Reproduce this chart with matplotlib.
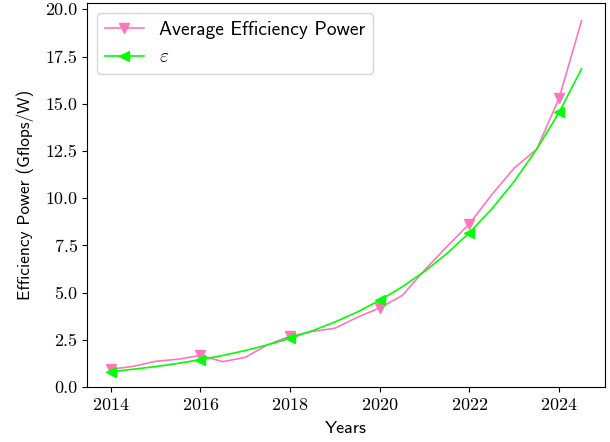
import matplotlib
matplotlib.use("Agg")
import matplotlib.pyplot as plt

# years sampled every half year
years = [2014, 2014.5, 2015, 2015.5, 2016, 2016.5, 2017, 2017.5, 2018, 2018.5, 2019,
         2019.5, 2020, 2020.5, 2021, 2021.5, 2022, 2022.5, 2023, 2023.5, 2024, 2024.5]
avg_power = [0.95, 1.1, 1.37, 1.48, 1.68, 1.35, 1.58, 2.25, 2.7, 2.95, 3.12,
             3.7, 4.2, 4.85, 6.2, 7.45, 8.65, 10.2, 11.6, 12.6, 15.3, 19.4]
eps_fit = [0.82, 0.95, 1.09, 1.26, 1.46, 1.68, 1.94, 2.24, 2.59, 2.99, 3.45,
           3.98, 4.6, 5.31, 6.13, 7.08, 8.18, 9.44, 10.9, 12.6, 14.55, 16.85]

plt.rcParams['mathtext.fontset'] = 'cm'
plt.rcParams['axes.formatter.use_mathtext'] = True

fig = plt.figure(figsize=(6.1, 4.42), dpi=100)
ax = fig.add_axes([0.143, 0.124, 0.849, 0.869])

ax.plot(years, avg_power, color='#ff77bb', marker='v', markevery=4, markersize=7,
        linewidth=1.2, label='Average Efficiency Power')
ax.plot(years, eps_fit, color='#00ff00', marker='<', markevery=4, markersize=7,
        linewidth=1.2, label=r'$\varepsilon$')

ax.set_ylim(bottom=0)
ax.set_xticks([2014, 2016, 2018, 2020, 2022, 2024])
ax.set_yticks([0, 2.5, 5, 7.5, 10, 12.5, 15, 17.5, 20])
ax.set_yticklabels(['0.0', '2.5', '5.0', '7.5', '10.0', '12.5', '15.0', '17.5', '20.0'])
for lbl in ax.get_xticklabels() + ax.get_yticklabels():
    lbl.set_family('cmr10')
    lbl.set_fontsize(13)

ax.set_xlabel('Years', family='cmss10', fontsize=13, labelpad=6)
ax.set_ylabel('Efficiency Power (Gflops/W)', family='cmss10', fontsize=12.5, labelpad=8)
leg = ax.legend(loc='upper left', prop={'family': 'cmss10', 'size': 14})

fig.savefig('out.png', dpi=100)
